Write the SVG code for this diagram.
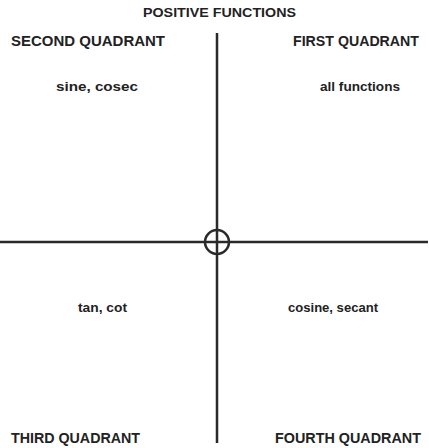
<svg xmlns="http://www.w3.org/2000/svg" width="429" height="448" viewBox="0 0 429 448">
<style>
text{font-family:"Liberation Sans",Arial,sans-serif;font-weight:bold;fill:#222}
.h{font-size:15px}
.t{font-size:13.5px}
.s{font-size:12.5px}
.ax{stroke:#2a2a2a;stroke-width:2.5;fill:none}
</style>
<rect width="429" height="448" fill="#fff"/>
<g id="connectors">
<line class="ax" x1="217" y1="33" x2="217" y2="443"/>
<line class="ax" x1="0" y1="242" x2="428" y2="242"/>
<circle class="ax" cx="217" cy="242" r="12"/>
</g>
<g id="title"><text class="t" x="143" y="17" textLength="153" lengthAdjust="spacingAndGlyphs">POSITIVE FUNCTIONS</text></g>
<g id="q2"><text class="h" x="11" y="46" textLength="154" lengthAdjust="spacingAndGlyphs">SECOND QUADRANT</text>
<text class="s" x="56" y="91" textLength="82" lengthAdjust="spacingAndGlyphs">sine, cosec</text></g>
<g id="q1"><text class="h" x="293" y="46" textLength="126" lengthAdjust="spacingAndGlyphs">FIRST QUADRANT</text>
<text class="s" x="320" y="91" textLength="80" lengthAdjust="spacingAndGlyphs">all functions</text></g>
<g id="q3"><text class="s" x="78" y="312" textLength="49" lengthAdjust="spacingAndGlyphs">tan, cot</text>
<text class="h" x="11" y="443" textLength="129" lengthAdjust="spacingAndGlyphs">THIRD QUADRANT</text></g>
<g id="q4"><text class="s" x="288" y="312" textLength="90" lengthAdjust="spacingAndGlyphs">cosine, secant</text>
<text class="h" x="275" y="443" textLength="146" lengthAdjust="spacingAndGlyphs">FOURTH QUADRANT</text></g>
</svg>
